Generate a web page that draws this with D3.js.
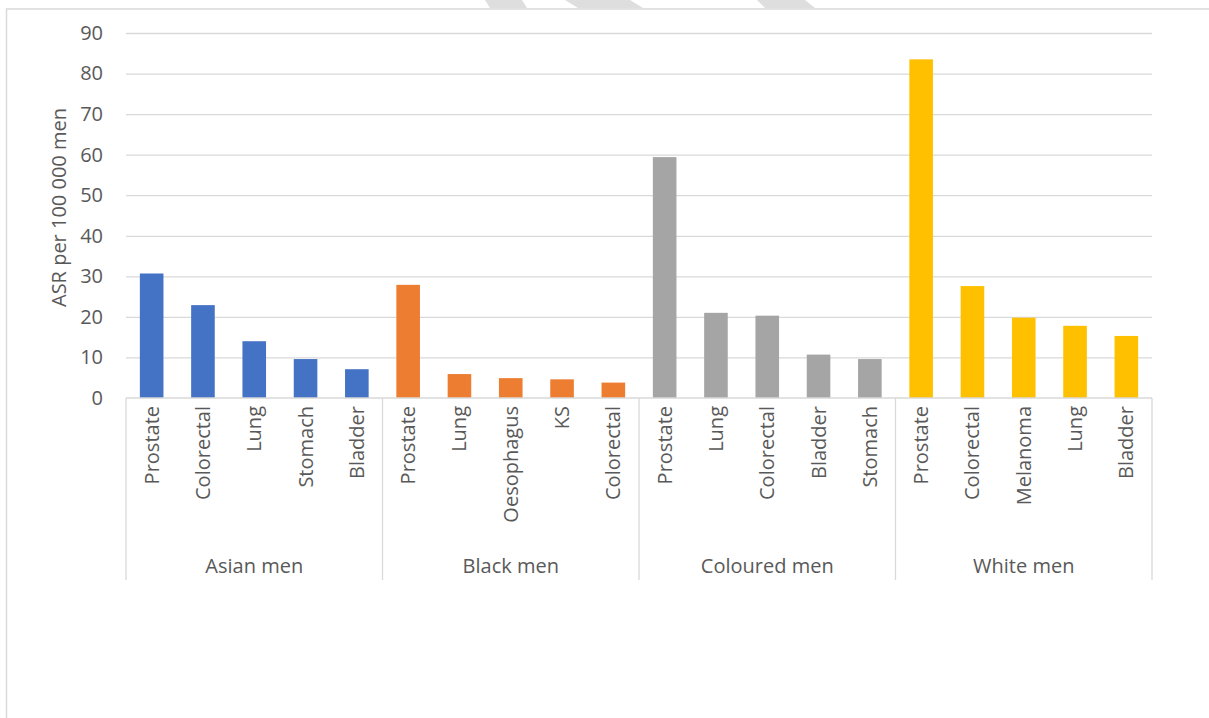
<!DOCTYPE html>
<html>
<head>
<meta charset="utf-8">
<script src="https://cdn.jsdelivr.net/npm/d3@7"></script>
<style>
  body { margin: 0; background: #fff; }
  text { font-family: "Open Sans", "Noto Sans", sans-serif; fill: #595959; }
</style>
</head>
<body>
<script>

var groups = ["Asian men", "Black men", "Coloured men", "White men"];
var groupColors = ["#4472c4", "#ed7d31", "#a5a5a5", "#ffc000"];
var asianSites = ["Prostate", "Colorectal", "Lung", "Stomach", "Bladder"];
var asianValues = [30.7, 22.9, 14.0, 9.6, 7.1];
var blackSites = ["Prostate", "Lung", "Oesophagus", "KS", "Colorectal"];
var blackValues = [27.9, 5.9, 4.9, 4.6, 3.8];
var colouredSites = ["Prostate", "Lung", "Colorectal", "Bladder", "Stomach"];
var colouredValues = [59.4, 21.0, 20.3, 10.7, 9.6];
var whiteSites = ["Prostate", "Colorectal", "Melanoma", "Lung", "Bladder"];
var whiteValues = [83.5, 27.6, 19.8, 17.8, 15.3];
var yTicks = [0, 10, 20, 30, 40, 50, 60, 70, 80, 90];
var yTitle = "ASR per 100 000 men";

var sites = [asianSites, blackSites, colouredSites, whiteSites];
var values = [asianValues, blackValues, colouredValues, whiteValues];

var data = [];
sites.forEach(function(list, g) {
  list.forEach(function(s, i) {
    data.push({ key: g + "-" + i, site: s, group: g, value: values[g][i] });
  });
});

var width = 1209, height = 718;
var plotLeft = 126, plotRight = 1152, plotTop = 33, base = 398, groupBottom = 580;
var fontSize = "20px";

var svg = d3.select("body").append("svg")
    .attr("width", width)
    .attr("height", height);

// faded watermark pieces peeking above the frame
var marks = [[[485, 0], [522, 0], [527, 8], [490, 8]],
             [[565, 0], [630, 0], [643, 8], [578, 8]],
             [[757, 0], [805, 0], [815, 8], [765, 8]]];
svg.selectAll("polygon.wm").data(marks).enter().append("polygon")
    .attr("class", "wm")
    .attr("points", function(d) { return d.join(" "); })
    .attr("fill", "#dedede");

// chart frame
svg.append("path")
    .attr("d", "M6.5,718 V9 H1209")
    .attr("fill", "none")
    .attr("stroke", "#d9d9d9")
    .attr("stroke-width", 1.5);

var x = d3.scaleBand()
    .domain(data.map(function(d) { return d.key; }))
    .range([plotLeft, plotRight])
    .paddingInner(0.54)
    .paddingOuter(0.27);

var y = d3.scaleLinear()
    .domain([0, 90])
    .range([base, plotTop]);

var yAxis = d3.axisLeft(y).tickValues(yTicks).tickSize(-(plotRight - plotLeft)).tickPadding(23);

var gy = svg.append("g")
    .attr("transform", "translate(" + plotLeft + ",0)")
    .call(yAxis);
gy.select(".domain").remove();
gy.selectAll(".tick line").attr("stroke", "#d9d9d9").attr("stroke-width", 1.3);
gy.selectAll(".tick text")
    .style("font-size", fontSize)
    .attr("fill", "#595959");
gy.selectAll(".tick").filter(function(d) { return d === 0; }).select("line").remove();

svg.append("text")
    .attr("transform", "translate(66," + ((plotTop + base) / 2 - 8) + ") rotate(-90)")
    .attr("text-anchor", "middle")
    .style("font-size", fontSize)
    .text(yTitle);

svg.selectAll("rect.bar").data(data).enter().append("rect")
    .attr("class", "bar")
    .attr("x", function(d) { return x(d.key); })
    .attr("width", x.bandwidth())
    .attr("y", function(d) { return y(d.value); })
    .attr("height", function(d) { return base - y(d.value); })
    .attr("fill", function(d) { return groupColors[d.group]; });

// baseline
svg.append("line")
    .attr("x1", plotLeft).attr("x2", plotRight)
    .attr("y1", base).attr("y2", base)
    .attr("stroke", "#d9d9d9").attr("stroke-width", 1.3);

// group separators
var groupScale = d3.scaleBand().domain(groups).range([plotLeft, plotRight]);
var seps = groups.map(function(g) { return groupScale(g); }).concat([plotRight]);
svg.selectAll("line.sep").data(seps).enter().append("line")
    .attr("class", "sep")
    .attr("x1", function(d) { return d; }).attr("x2", function(d) { return d; })
    .attr("y1", base).attr("y2", groupBottom)
    .attr("stroke", "#d9d9d9").attr("stroke-width", 1.3);

svg.selectAll("text.site").data(data).enter().append("text")
    .attr("class", "site")
    .attr("transform", function(d) {
      return "translate(" + (x(d.key) + x.bandwidth() / 2 + 7) + "," + (base + 8) + ") rotate(-90)";
    })
    .attr("text-anchor", "end")
    .style("font-size", fontSize)
    .text(function(d) { return d.site; });

svg.selectAll("text.group").data(groups).enter().append("text")
    .attr("class", "group")
    .attr("x", function(d) { return groupScale(d) + groupScale.bandwidth() / 2; })
    .attr("y", 573)
    .attr("text-anchor", "middle")
    .style("font-size", fontSize)
    .text(function(d) { return d; });

</script>
</body>
</html>
